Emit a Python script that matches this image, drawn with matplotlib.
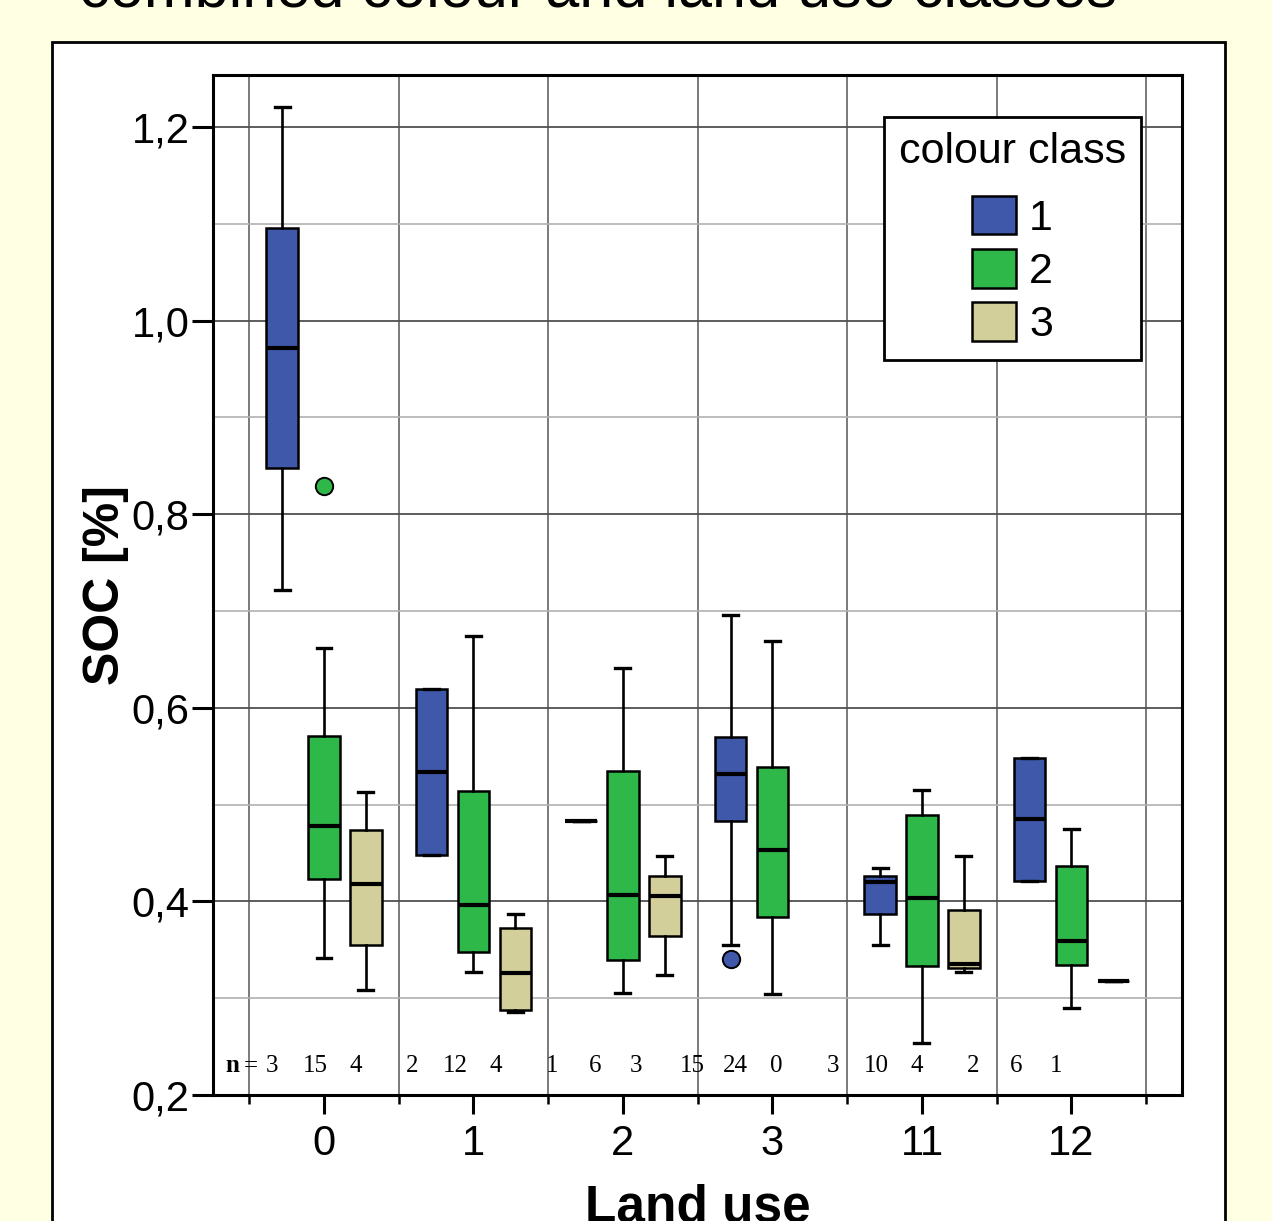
import numpy as np
import matplotlib
matplotlib.use('Agg')
import matplotlib.pyplot as plt
from matplotlib.patches import Patch, Rectangle

plt.rcParams['font.family'] = ['Liberation Sans', 'DejaVu Sans']

# categories
land_use = ['0', '1', '2', '3', '11', '12']
colour_classes = ['1', '2', '3']
class_colours = ['#3F58AA', '#2EB84A', '#D3CF9A']

# box stats per land use class: (whisker low, q1, median, q3, whisker high), None = no samples
class1_stats = [
    (0.722, 0.848, 0.972, 1.096, 1.221),
    (0.448, 0.448, 0.534, 0.619, 0.619),
    (0.483, 0.483, 0.483, 0.483, 0.483),
    (0.355, 0.483, 0.532, 0.570, 0.696),
    (0.355, 0.387, 0.420, 0.426, 0.435),
    (0.421, 0.421, 0.485, 0.548, 0.548),
]
class2_stats = [
    (0.342, 0.423, 0.478, 0.571, 0.662),
    (0.327, 0.348, 0.396, 0.514, 0.674),
    (0.305, 0.339, 0.407, 0.535, 0.641),
    (0.304, 0.384, 0.453, 0.539, 0.669),
    (0.254, 0.333, 0.404, 0.489, 0.515),
    (0.290, 0.334, 0.359, 0.437, 0.475),
]
class3_stats = [
    (0.308, 0.355, 0.418, 0.474, 0.513),
    (0.286, 0.288, 0.326, 0.373, 0.387),
    (0.324, 0.364, 0.406, 0.426, 0.447),
    None,
    (0.327, 0.331, 0.335, 0.391, 0.447),
    (0.318, 0.318, 0.318, 0.318, 0.318),
]
class1_outliers = [[], [], [], [0.340], [], []]
class2_outliers = [[0.829], [], [], [], [], []]
class3_outliers = [[], [], [], [], [], []]

# sample counts
n_class1 = [3, 2, 1, 15, 3, 2]
n_class2 = [15, 12, 6, 24, 10, 6]
n_class3 = [4, 4, 3, 0, 4, 1]

ytick_values = [0.2, 0.4, 0.6, 0.8, 1.0, 1.2]
ytick_labels = ['0,2', '0,4', '0,6', '0,8', '1,0', '1,2']

fig = plt.figure(figsize=(12.72, 12.21), dpi=100)
fig.patch.set_facecolor('#FFFFE3')

# white panel behind the chart
panel = Rectangle((0.0409, -0.02), 0.9222, 0.9856, transform=fig.transFigure,
                  facecolor='white', edgecolor='black', linewidth=2, zorder=-5)
fig.add_artist(panel)
fig.text(0.47, 0.9945, 'combined colour and land use classes', ha='center', va='baseline',
         fontsize=44, color='black')

ax = fig.add_axes([0.1675, 0.1032, 0.7618, 0.8354])
ax.set_facecolor('white')
ax.set_zorder(2)

offsets = [-0.28, 0.0, 0.28]
all_stats = [class1_stats, class2_stats, class3_stats]
all_outliers = [class1_outliers, class2_outliers, class3_outliers]

for k in range(3):
    boxes, pos = [], []
    for i, s in enumerate(all_stats[k]):
        if s is None:
            continue
        lo, q1, med, q3, hi = s
        boxes.append(dict(whislo=lo, q1=q1, med=med, q3=q3, whishi=hi, fliers=all_outliers[k][i]))
        pos.append(i + offsets[k])
    c = class_colours[k]
    ax.bxp(boxes, positions=pos, widths=0.21, capwidths=0.1, patch_artist=True,
           boxprops=dict(facecolor=c, edgecolor='black', linewidth=1.8),
           medianprops=dict(color='black', linewidth=3, solid_capstyle='butt'),
           whiskerprops=dict(color='black', linewidth=1.9),
           capprops=dict(color='black', linewidth=2.4),
           flierprops=dict(marker='o', markerfacecolor=c, markeredgecolor='black',
                           markersize=12.5, markeredgewidth=1.4),
           manage_ticks=False, zorder=3)

# n labels
n_all = [n_class1, n_class2, n_class3]
n_base = [-0.35, -0.06, 0.21]
serif = ['Liberation Serif', 'DejaVu Serif']
for i in range(len(land_use)):
    for k in range(3):
        ax.text(i + n_base[k] - 0.062 * i, 0.2238, str(n_all[k][i]), ha='center', va='baseline',
                fontsize=18, family=serif, zorder=4)
ax.text(-0.61, 0.2238, 'n', ha='center', va='baseline', fontsize=18, fontweight='bold',
        family=serif, zorder=4)
ax.text(-0.49, 0.2238, '=', ha='center', va='baseline', fontsize=18, family=serif, zorder=4)

ax.set_xlim(-0.742, 5.74)
ax.set_ylim(0.2, 1.2537)
ax.set_xticks(range(len(land_use)))
ax.set_xticklabels(land_use)
ax.set_xticks(np.arange(-0.5, 5.6, 1.0), minor=True)
ax.set_yticks(ytick_values)
ax.set_yticklabels(ytick_labels)
ax.set_yticks(np.arange(0.3, 1.21, 0.2), minor=True)

ax.set_axisbelow(True)
ax.yaxis.grid(True, which='major', color='#505050', linewidth=1.3)
ax.yaxis.grid(True, which='minor', color='#B0B0B0', linewidth=1.2)
ax.xaxis.grid(True, which='minor', color='#707070', linewidth=1.3)

ax.tick_params(axis='both', which='major', direction='out', width=2.2, labelsize=30, color='black')
ax.tick_params(axis='y', which='major', length=15, pad=2)
ax.tick_params(axis='x', which='major', length=14, pad=7)
ax.tick_params(axis='x', which='minor', length=6.5, width=1.8, direction='out')
ax.tick_params(axis='y', which='minor', length=0)
for sp in ax.spines.values():
    sp.set_linewidth(2.2)

ax.set_ylabel('SOC [%]', fontsize=36, fontweight='bold', labelpad=2)
ax.set_xlabel('Land use', fontsize=37, fontweight='bold', labelpad=14)

handles = [Patch(facecolor=class_colours[k], edgecolor='black', linewidth=1.8) for k in range(3)]
leg = ax.legend(handles, colour_classes, title='colour class', loc='upper right',
                bbox_to_anchor=(0.9577, 0.9588), borderaxespad=0, fontsize=31, title_fontsize=31,
                handlelength=1.02, handleheight=1.0, labelspacing=0.24, handletextpad=0.3,
                fancybox=False, framealpha=1, edgecolor='black', borderpad=0.35)
leg.get_frame().set_linewidth(2)
leg._legend_box.sep = 17
leg.set_zorder(5)

fig.savefig('out.png', dpi=100, facecolor=fig.get_facecolor())
